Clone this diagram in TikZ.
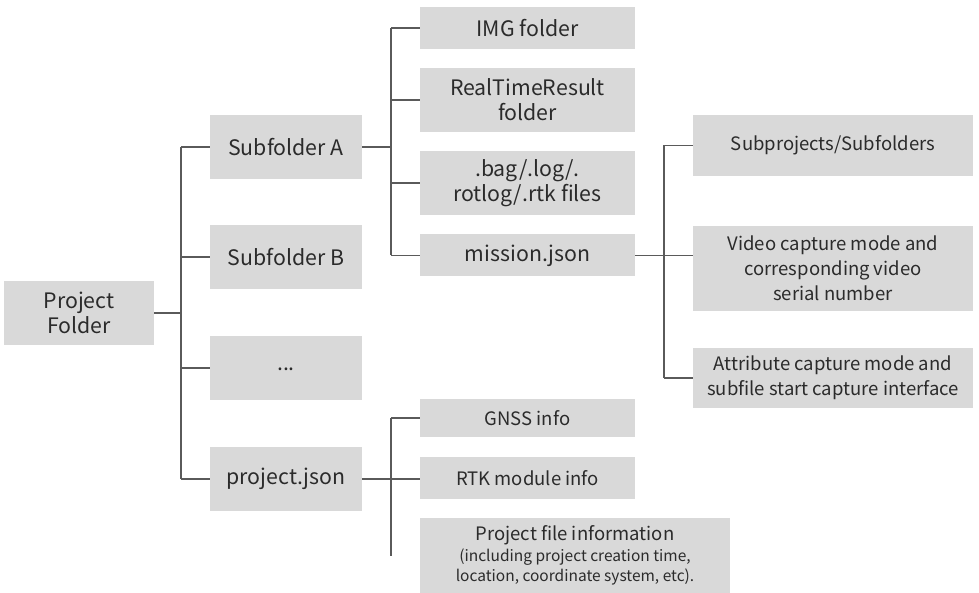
\documentclass[tikz,border=0pt]{standalone}
\usepackage{fontspec}
\setmainfont{Noto Sans CJK SC}
\definecolor{boxfill}{HTML}{D9D9D9}
\definecolor{linec}{HTML}{5A5A5A}
\definecolor{txt}{HTML}{2B2B2B}
\begin{document}
\begin{tikzpicture}[x=1pt,y=-1pt,
  box/.style={fill=boxfill, draw=none, inner sep=0pt, align=center, text=txt, font=\fontsize{21.3}{25}\selectfont},
  rbox/.style={box, font=\fontsize{18.5}{25}\selectfont},
  conn/.style={draw=linec, line width=1.2pt}]
\useasboundingbox (0,0) rectangle (979,593);
% level 0
\node[box, minimum width=150, minimum height=64] (pf) at (79,313) {Project\\Folder};
% level 1
\node[box, minimum width=152, minimum height=64] (sa) at (286,147) {Subfolder A};
\node[box, minimum width=152, minimum height=64] (sb) at (286,257) {Subfolder B};
\node[box, minimum width=152, minimum height=64] (dots) at (286,368) {\raisebox{-6pt}{...}};
\node[box, minimum width=152, minimum height=64] (pj) at (286,479) {project.json};
% level 2 (Subfolder A)
\node[box, minimum width=215, minimum height=42] (img) at (527.5,28) {IMG folder};
\node[box, minimum width=215, minimum height=64] (rtr) at (527.5,100) {RealTimeResult\\folder};
\node[box, minimum width=215, minimum height=64] (bag) at (527.5,183) {.bag/.log/.\\rotlog/.rtk files};
\node[box, minimum width=215, minimum height=42] (mj) at (527.5,255.5) {mission.json};
% level 3 (mission.json)
\node[rbox, minimum width=280, minimum height=61] (sub) at (833,145.5) {Subprojects/Subfolders};
\node[rbox, minimum width=280, minimum height=85] (vid) at (833,268.5) {Video capture mode and\\corresponding video\\serial number};
\node[rbox, minimum width=280, minimum height=60] (att) at (833,378) {Attribute capture mode and\\subfile start capture interface};
% level 2 (project.json)
\node[rbox, minimum width=215, minimum height=38] (gnss) at (527.5,418) {GNSS info};
\node[rbox, minimum width=215, minimum height=42] (rtk) at (527.5,478) {RTK module info};
\node[box, minimum width=310, minimum height=75, font=\fontsize{18.5}{22}\selectfont] (pfi) at (575,555.5) {Project file information\\[-1pt]{\fontsize{15.5}{20}\selectfont (including project creation time,}\\[-2pt]{\fontsize{15.5}{20}\selectfont location, coordinate system, etc).}};
% trunk coordinates
\coordinate (t1) at (181,0);
\coordinate (t2) at (391,0);
\coordinate (t3) at (664,0);
\coordinate (t4end) at (391,556);
% connectors: project folder
\draw[conn] (pf.east) -- (pf.east -| t1);
\draw[conn] (sa.west -| t1) -- (pj.west -| t1);
\draw[conn] (sa.west -| t1) -- (sa.west);
\draw[conn] (sb.west -| t1) -- (sb.west);
\draw[conn] (dots.west -| t1) -- (dots.west);
\draw[conn] (pj.west -| t1) -- (pj.west);
% subfolder A
\draw[conn] (sa.east) -- (sa.east -| t2);
\draw[conn] (img.west -| t2) -- (mj.west -| t2);
\draw[conn] (img.west -| t2) -- (img.west);
\draw[conn] (rtr.west -| t2) -- (rtr.west);
\draw[conn] (bag.west -| t2) -- (bag.west);
\draw[conn] (mj.west -| t2) -- (mj.west);
% mission.json
\draw[conn] (mj.east) -- (vid.west |- mj.east);
\draw[conn] (sub.west -| t3) -- (att.west -| t3);
\draw[conn] (sub.west -| t3) -- (sub.west);
\draw[conn] (att.west -| t3) -- (att.west);
% project.json
\draw[conn] (pj.east) -- (rtk.west |- pj.east);
\draw[conn] (gnss.west -| t2) -- (t4end);
\draw[conn] (gnss.west -| t2) -- (gnss.west);
\end{tikzpicture}
\end{document}
